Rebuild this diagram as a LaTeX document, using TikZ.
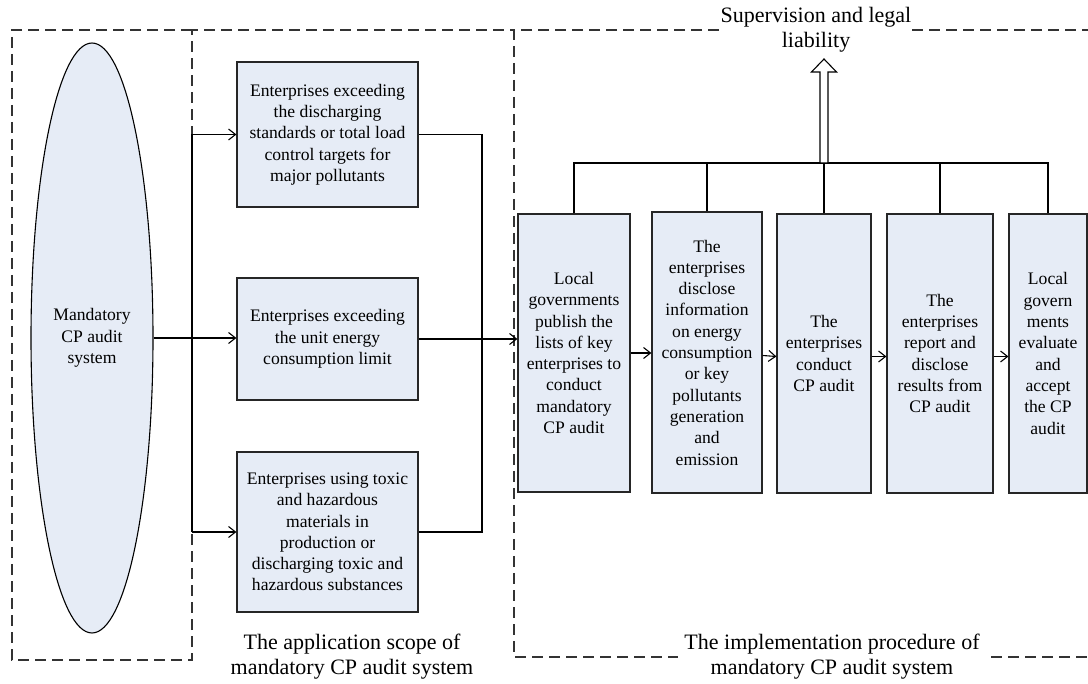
\documentclass[tikz,border=0pt]{standalone}
\usepackage{fontspec}
\setmainfont{Liberation Serif}
\usetikzlibrary{arrows.meta,shapes.geometric}
\definecolor{boxfill}{HTML}{E6ECF6}
\begin{document}
\begin{tikzpicture}[x=1pt,y=-1pt,
  box/.style={draw=black!85, line width=1.2pt, fill=boxfill, align=center, inner sep=2pt, font=\fontsize{17.6}{21.3}\selectfont},
  conn/.style={line width=1.1pt, black},
  arr/.style={conn, -{Straight Barb[length=7pt,width=11pt]}},
  region/.style={dash pattern=on 11pt off 6pt, line width=1.5pt, black!80},
  lbl/.style={align=center, font=\fontsize{22}{25}\selectfont},
  hollow/.style={line width=1.1pt, draw=black, fill=white},
]
\useasboundingbox (0,0) rectangle (1088,684);

% dashed regions
\draw[region] (192,30) -- (12,30) -- (12,660) -- (192,660) -- (192,30) -- (514,30);
\draw[region] (719,30) -- (514,30) -- (514,657) -- (678,657);
\draw[region] (912,30) -- (1100,30);
\draw[region] (991,657) -- (1100,657);

% ellipse
\node[draw, ellipse, fill=boxfill, line width=1.1pt, minimum width=122pt, minimum height=590pt, inner sep=0pt, align=center, font=\fontsize{17.6}{21.3}\selectfont] (ell) at (92,338) {Mandatory\\CP audit\\system};

% scope boxes
\node[box, minimum width=181pt, minimum height=145pt] (s1) at (327.5,134.5) {Enterprises exceeding\\the discharging\\standards or total load\\control targets for\\major pollutants};
\node[box, minimum width=181pt, minimum height=122pt] (s2) at (327.5,339) {Enterprises exceeding\\the unit energy\\consumption limit};
\node[box, minimum width=181pt, minimum height=160pt] (s3) at (327.5,532) {Enterprises using toxic\\and hazardous\\materials in\\production or\\discharging toxic and\\hazardous substances};

% procedure boxes
\node[box, minimum width=112pt, minimum height=278pt] (p1) at (574,353) {Local\\governments\\publish the\\lists of key\\enterprises to\\conduct\\mandatory\\CP audit};
\node[box, minimum width=110pt, minimum height=281pt] (p2) at (707,352.5) {The\\enterprises\\disclose\\information\\on energy\\consumption\\or key\\pollutants\\generation\\and\\emission};
\node[box, minimum width=94pt, minimum height=279pt] (p3) at (824,353.5) {The\\enterprises\\conduct\\CP audit};
\node[box, minimum width=106pt, minimum height=279pt] (p4) at (940,353.5) {The\\enterprises\\report and\\disclose\\results from\\CP audit};
\node[box, minimum width=78pt, minimum height=279pt] (p5) at (1048,353.5) {Local\\govern\\ments\\evaluate\\and\\accept\\the CP\\audit};

% labels
\node[lbl] (sup) at (816,30) {Supervision and legal\\liability};
\node[lbl] (app) at (352,657) {The application scope of\\mandatory CP audit system};
\node[lbl] (imp) at (832,657) {The implementation procedure of\\mandatory CP audit system};

% left connectors
\coordinate (jl1) at (192,134.5);
\coordinate (jl3) at (192,532);
\draw[conn] (jl1) -- (jl3);
\draw[arr] (jl1) -- (s1.west);
\draw[arr] (jl3) -- (s3.west);
\draw[arr] (ell.east) -- (ell.east -| s2.west);

% right connectors
\coordinate (jr1) at (482,134.5);
\coordinate (jr3) at (482,532);
\draw[conn] (s1.east) -- (jr1) -- (jr3) -- (s3.east);
\draw[arr] (s2.east) -- (s2.east -| p1.west);

% procedure arrows
\draw[arr] (p1.east) -- (p1.east -| p2.west);
\draw[arr] ([yshift=-3pt]p2.east) -- ([yshift=-3pt]p3.west);
\draw[arr] ([yshift=-3pt]p3.east) -- ([yshift=-3pt]p4.west);
\draw[arr] ([yshift=-3pt]p4.east) -- ([yshift=-3pt]p5.west);

% bus
\coordinate (bus) at (824,163);
\draw[conn] (p1.north) -- (p1.north |- bus) -- (p5.north |- bus) -- (p5.north);
\foreach \n in {p2,p3,p4} \draw[conn] (\n.north) -- (\n.north |- bus);

% hollow arrow
\draw[hollow] (bus) ++(-4,0) -- ++(0,-91) -- ++(-8.5,0) -- ++(12.5,-13) -- ++(12.5,13) -- ++(-8.5,0) -- ++(0,91) -- cycle;
\end{tikzpicture}
\end{document}
